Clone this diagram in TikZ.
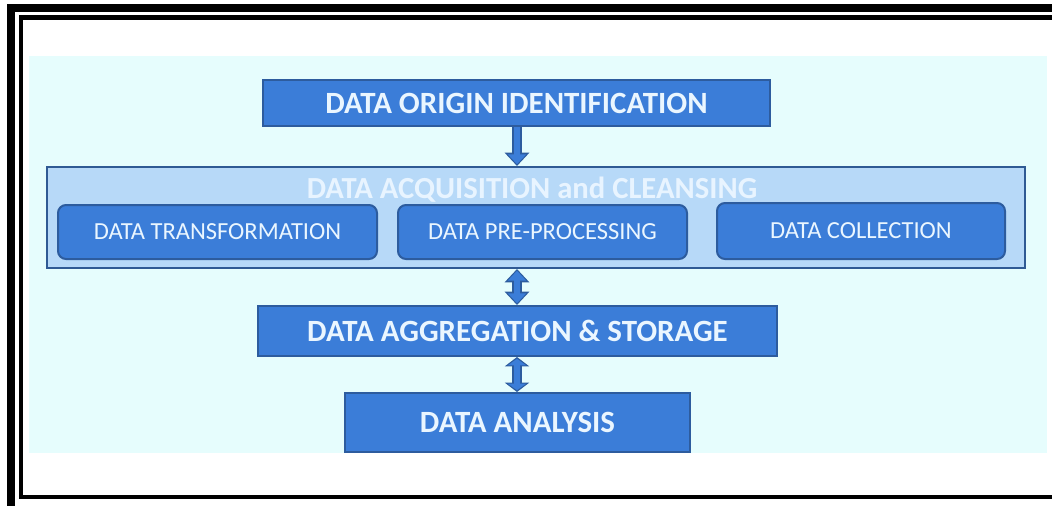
\documentclass[tikz,border=0pt]{standalone}
\usepackage{fontspec}
\setmainfont{Carlito}
\usetikzlibrary{arrows.meta,calc}

\definecolor{pagebg}{HTML}{E6FDFD}
\definecolor{boxfill}{HTML}{3B7DD8}
\definecolor{boxedge}{HTML}{2D5C9E}
\definecolor{groupfill}{HTML}{B7D9F8}
\definecolor{groupedge}{HTML}{2F5A94}
\definecolor{labeltext}{HTML}{EAF6FF}
\definecolor{grouptitle}{HTML}{E8F4FF}

\tikzset{
  px/.style={x=0.75pt,y=-0.75pt},
  stagebox/.style={draw=boxedge,fill=boxfill,line width=1.5pt,
    text=labeltext,font=\bfseries\fontsize{23.2}{26}\selectfont},
  subbox/.style={draw=boxedge,fill=boxfill,line width=1.5pt,rounded corners=6pt,
    text=labeltext,font=\fontsize{18.4}{21}\selectfont},
  groupbox/.style={draw=groupedge,fill=groupfill,line width=1.5pt},
  arrowedge/.style={draw=boxedge,line width=7.5pt},
  arrowcore/.style={draw=boxfill,line width=5pt},
}

\begin{document}
\begin{tikzpicture}[px]
\useasboundingbox (0,0) rectangle (1052,506);
\clip (0,0) rectangle (1052,506);

% double frame
\draw[line width=6pt] (11,8) rectangle (1062,510);
\draw[line width=3.3pt] (21,17.5) rectangle (1056,497);

% pale backdrop
\fill[pagebg] (29,56) rectangle (1047,453);

% blocks (corner coordinates)
\path (263,80) coordinate (o1) (770,126) coordinate (o2);
\path (47,167) coordinate (g1) (1025,268) coordinate (g2);
\path (258,306) coordinate (s1) (777,356) coordinate (s2);
\path (345,393) coordinate (a1) (690,452) coordinate (a2);

\node[stagebox,inner sep=0pt,minimum width=507*0.75pt,minimum height=46*0.75pt]
  (origin) at ($(o1)!0.5!(o2)$) {DATA ORIGIN IDENTIFICATION};

\node[groupbox,inner sep=0pt,minimum width=978*0.75pt,minimum height=101*0.75pt]
  (acq) at ($(g1)!0.5!(g2)$) {};
\node[text=grouptitle,font=\bfseries\fontsize{23}{26}\selectfont,inner sep=0pt,anchor=base]
  (acqtitle) at (532,198) {DATA ACQUISITION and CLEANSING};

\node[subbox,inner sep=0pt,minimum width=319*0.75pt,minimum height=54*0.75pt]
  (transf) at (217.5,232) {DATA TRANSFORMATION};
\node[subbox,inner sep=0pt,minimum width=289*0.75pt,minimum height=54*0.75pt]
  (prep) at (542.5,232) {DATA PRE-PROCESSING};
\node[subbox,inner sep=0pt,minimum width=288*0.75pt,minimum height=56*0.75pt]
  (coll) at (861,231) {DATA COLLECTION};

\node[stagebox,inner sep=0pt,minimum width=519*0.75pt,minimum height=50*0.75pt]
  (store) at ($(s1)!0.5!(s2)$) {DATA AGGREGATION \& STORAGE};
\node[stagebox,inner sep=0pt,minimum width=345*0.75pt,minimum height=59*0.75pt]
  (analysis) at ($(a1)!0.5!(a2)$) {DATA ANALYSIS};

% connectors
\coordinate (x0) at (517,0);
\draw[arrowedge,-{Triangle[length=10pt,width=18pt]}]
  (x0 |- origin.south) -- (x0 |- acq.north);
\draw[arrowcore,-{Triangle[length=7.5pt,width=13.5pt]},shorten >=1.3pt]
  (x0 |- origin.south) -- (x0 |- acq.north);

\draw[arrowedge,{Triangle[length=10pt,width=18pt]}-{Triangle[length=10pt,width=18pt]}]
  (x0 |- acq.south) -- (x0 |- store.north);
\draw[arrowcore,{Triangle[length=7.5pt,width=13.5pt]}-{Triangle[length=7.5pt,width=13.5pt]},shorten >=1.3pt,shorten <=1.3pt]
  (x0 |- acq.south) -- (x0 |- store.north);

\draw[arrowedge,{Triangle[length=7pt,width=18pt]}-{Triangle[length=7pt,width=18pt]}]
  (x0 |- store.south) -- (x0 |- analysis.north);
\draw[arrowcore,{Triangle[length=5pt,width=13.5pt]}-{Triangle[length=5pt,width=13.5pt]},shorten >=1.3pt,shorten <=1.3pt]
  (x0 |- store.south) -- (x0 |- analysis.north);
\end{tikzpicture}
\end{document}
